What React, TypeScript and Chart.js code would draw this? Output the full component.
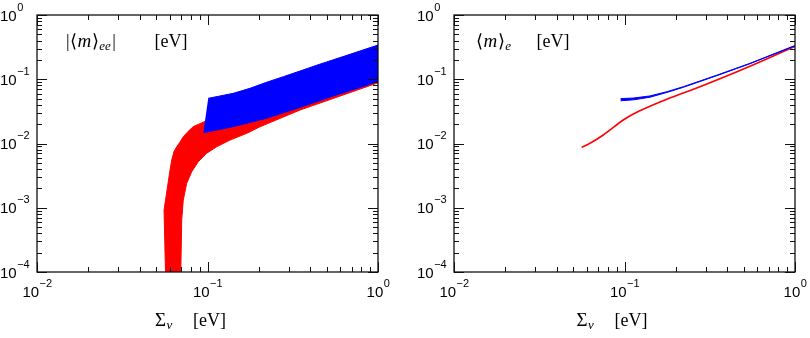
import React, { useEffect, useRef } from 'react';
import { Chart, registerables } from 'chart.js';

Chart.register(...registerables);

// ---------- axis ranges & ticks ----------
const X_MIN = 0.01;
const X_MAX = 1;
const Y_MIN = 1e-4;
const Y_MAX = 1;
const xMajorTicks = [0.01, 0.1, 1];
const xMajorExponents = ['\u22122', '\u22121', '0'];
const yMajorTicks = [1e-4, 1e-3, 1e-2, 1e-1, 1];
const yMajorExponents = ['\u22124', '\u22123', '\u22122', '\u22121', '0'];
const minorMultipliers = [2, 3, 4, 5, 6, 7, 8, 9];

// ---------- left panel: |<m>_ee| ----------
// normal hierarchy band (red): left/upper edge, from the bottom towards the right
const nhEeUpperX = [0.0567, 0.0556, 0.0603, 0.0617, 0.0636, 0.066, 0.069, 0.0721, 0.0769, 0.0825, 0.0945, 0.11, 0.2, 0.5, 1.0];
const nhEeUpperY = [1e-4, 9.2e-4, 0.00387, 0.00553, 0.0075, 0.0089, 0.01055, 0.01276, 0.01537, 0.0183, 0.0215, 0.026, 0.055, 0.15, 0.31];
// right/lower edge, from the bottom towards the right
const nhEeLowerX = [0.0697, 0.0706, 0.0721, 0.0755, 0.0808, 0.0883, 0.0989, 0.1132, 0.1355, 0.17, 0.203, 0.349, 1.0];
const nhEeLowerY = [1e-4, 6.45e-4, 0.00132, 0.0024, 0.00364, 0.00521, 0.00704, 0.0089, 0.0113, 0.0144, 0.0182, 0.0332, 0.088];
// inverted hierarchy band (blue)
const ihEeUpperX = [0.101, 0.1184, 0.1417, 0.1775, 0.222, 0.2783, 0.349, 0.436, 0.685, 1.0];
const ihEeUpperY = [0.0505, 0.0549, 0.0604, 0.0723, 0.0897, 0.1096, 0.1344, 0.1648, 0.2445, 0.341];
const ihEeLowerX = [0.0945, 0.1417, 0.222, 0.349, 0.5467, 1.0];
const ihEeLowerY = [0.0147, 0.0183, 0.0247, 0.0366, 0.0549, 0.0917];

// ---------- right panel: <m>_e ----------
const nhMeX = [0.0561, 0.0628, 0.0751, 0.0984, 0.1127, 0.177, 0.277, 0.435, 0.682, 1.0];
const nhMeY = [0.00873, 0.01007, 0.01355, 0.0232, 0.0288, 0.0488, 0.0766, 0.124, 0.2065, 0.325];
const ihMeX = [0.095, 0.1127, 0.141, 0.177, 0.221, 0.347, 0.545, 1.0];
const ihMeUpperY = [0.05, 0.051, 0.055, 0.064, 0.0765, 0.1155, 0.1772, 0.336];
const ihMeLowerY = [0.0462, 0.0478, 0.0525, 0.0622, 0.0748, 0.1133, 0.1745, 0.33];

const RED = '#ff0000';
const BLUE = '#0000ff';

type Pt = { x: number; y: number };
const zip = (xs: number[], ys: number[]): Pt[] => xs.map((x, i) => ({ x, y: ys[i] }));
const outline = (ux: number[], uy: number[], lx: number[], ly: number[]): Pt[] =>
  zip(ux, uy).concat(zip(lx, ly).reverse());

type Piece = { text: string; x?: number; gap?: number; italic?: boolean; sub?: boolean; size?: number };
type PanelCfg = {
  padding: { left: number; right: number; top: number; bottom: number };
  label: Piece[];
  labelBaseline: number;
  title: Piece[];
  titleBaseline: number;
};

const SERIF = '"Liberation Serif", "Times New Roman", serif';
const SANS = '"Liberation Sans", Arial, Helvetica, sans-serif';
const BASE_FONT = `15px ${SANS}`;
const EXP_FONT = `11px ${SANS}`;
const MAJOR_LEN = 10;
const MINOR_LEN = 5;

function drawPieces(ctx: CanvasRenderingContext2D, pieces: Piece[], baseline: number) {
  let cursor = 0;
  for (const p of pieces) {
    const size = p.size ?? (p.sub ? 13 : 18);
    ctx.font = `${p.italic ? 'italic ' : ''}${size}px ${SERIF}`;
    const x = p.x !== undefined ? p.x : cursor + (p.gap ?? 0);
    ctx.fillText(p.text, x, baseline + (p.sub ? 2.5 : 0));
    cursor = x + ctx.measureText(p.text).width;
  }
}

function drawPow(ctx: CanvasRenderingContext2D, exp: string, x: number, baseline: number, center: boolean) {
  ctx.font = BASE_FONT;
  const w1 = ctx.measureText('10').width;
  ctx.font = EXP_FONT;
  const w2 = ctx.measureText(exp).width;
  const start = center ? x - (w1 + w2) / 2 : x;
  ctx.font = BASE_FONT;
  ctx.fillText('10', start, baseline);
  ctx.font = EXP_FONT;
  ctx.fillText(exp, start + w1 + 0.5, baseline - 10);
}

function framePlugin(cfg: PanelCfg) {
  return {
    id: 'logFrame',
    afterDraw(chart: any) {
      const { ctx, chartArea: a, scales } = chart;
      const xs = scales.x;
      const ys = scales.y;
      ctx.save();
      ctx.strokeStyle = '#111';
      ctx.fillStyle = '#000';
      ctx.lineWidth = 1;
      const line = (x1: number, y1: number, x2: number, y2: number) => {
        ctx.beginPath();
        ctx.moveTo(x1, y1);
        ctx.lineTo(x2, y2);
        ctx.stroke();
      };
      const xMinor = xMajorTicks.slice(0, -1).flatMap((b) => minorMultipliers.map((m) => b * m));
      const yMinor = yMajorTicks.slice(0, -1).flatMap((b) => minorMultipliers.map((m) => b * m));
      const xTick = (v: number, len: number) => {
        const px = Math.round(xs.getPixelForValue(v)) + 0.5;
        line(px, a.bottom, px, a.bottom - len);
        line(px, a.top, px, a.top + len);
      };
      const yTick = (v: number, len: number) => {
        const py = Math.round(ys.getPixelForValue(v)) + 0.5;
        line(a.left, py, a.left + len, py);
        line(a.right, py, a.right - len, py);
      };
      xMinor.forEach((v) => xTick(v, MINOR_LEN));
      yMinor.forEach((v) => yTick(v, MINOR_LEN));
      xMajorTicks.forEach((v) => xTick(v, MAJOR_LEN));
      yMajorTicks.forEach((v) => yTick(v, MAJOR_LEN));
      ctx.lineWidth = 1.3;
      ctx.strokeRect(a.left, a.top, a.right - a.left, a.bottom - a.top);

      ctx.textAlign = 'left';
      ctx.textBaseline = 'alphabetic';
      xMajorTicks.forEach((v, i) => {
        drawPow(ctx, xMajorExponents[i], xs.getPixelForValue(v), a.bottom + 25, true);
      });
      yMajorTicks.forEach((v, i) => {
        drawPow(ctx, yMajorExponents[i], a.left - 37, ys.getPixelForValue(v) + 5.5, false);
      });
      drawPieces(ctx, cfg.label, cfg.labelBaseline);
      drawPieces(ctx, cfg.title, cfg.titleBaseline);
      ctx.restore();
    },
  };
}

function makeConfig(datasets: any[], cfg: PanelCfg): any {
  return {
    type: 'scatter',
    data: { datasets },
    options: {
      animation: false,
      responsive: false,
      maintainAspectRatio: false,
      devicePixelRatio: 1,
      layout: { padding: cfg.padding },
      scales: {
        x: { type: 'logarithmic', min: X_MIN, max: X_MAX, display: false },
        y: { type: 'logarithmic', min: Y_MIN, max: Y_MAX, display: false },
      },
      elements: { point: { radius: 0, hoverRadius: 0 }, line: { tension: 0 } },
      plugins: {
        legend: { display: false },
        tooltip: { enabled: false },
        filler: { drawTime: 'beforeDatasetDraw', propagate: false },
      },
      events: [],
    },
    plugins: [framePlugin(cfg)],
  };
}

const band = (data: Pt[], color: string) => ({
  data,
  showLine: true,
  fill: 'shape',
  backgroundColor: color,
  borderColor: color,
  borderWidth: 1,
  pointRadius: 0,
  clip: 0,
});

const leftCfg: PanelCfg = {
  padding: { left: 37, right: 27, top: 15, bottom: 66 },
  label: [
    { text: '|', x: 66 },
    { text: '\u27E8', gap: 0.5 },
    { text: 'm', italic: true, gap: 0.5, size: 19 },
    { text: '\u27E9', gap: 0.5 },
    { text: 'ee', italic: true, sub: true, gap: 0.5 },
    { text: '|', gap: 1.5 },
    { text: '[eV]', x: 154.5 },
  ],
  labelBaseline: 47,
  title: [
    { text: '\u03A3', x: 155, size: 19 },
    { text: '\u03BD', italic: true, sub: true, gap: 0.5 },
    { text: '[eV]', x: 193 },
  ],
  titleBaseline: 326,
};

const rightCfg: PanelCfg = {
  padding: { left: 49, right: 15, top: 15, bottom: 66 },
  label: [
    { text: '\u27E8', x: 71 },
    { text: 'm', italic: true, gap: 0.5, size: 19 },
    { text: '\u27E9', gap: 0.5 },
    { text: 'e', italic: true, sub: true, gap: 0.5 },
    { text: '[eV]', x: 131.5 },
  ],
  labelBaseline: 47,
  title: [
    { text: '\u03A3', x: 171.5, size: 19 },
    { text: '\u03BD', italic: true, sub: true, gap: 0.5 },
    { text: '[eV]', x: 209.5 },
  ],
  titleBaseline: 326,
};

export default function App() {
  const leftRef = useRef<HTMLCanvasElement>(null);
  const rightRef = useRef<HTMLCanvasElement>(null);

  useEffect(() => {
    const left = new Chart(
      leftRef.current as HTMLCanvasElement,
      makeConfig(
        [
          band(outline(ihEeUpperX, ihEeUpperY, ihEeLowerX, ihEeLowerY), BLUE),
          band(outline(nhEeUpperX, nhEeUpperY, nhEeLowerX, nhEeLowerY), RED),
        ],
        leftCfg
      )
    );
    const right = new Chart(
      rightRef.current as HTMLCanvasElement,
      makeConfig(
        [
          band(outline(ihMeX, ihMeUpperY, ihMeX, ihMeLowerY), BLUE),
          {
            data: zip(nhMeX, nhMeY),
            showLine: true,
            fill: false,
            borderColor: RED,
            backgroundColor: RED,
            borderWidth: 1.6,
            pointRadius: 0,
            cubicInterpolationMode: 'monotone',
            clip: 0,
          },
        ],
        rightCfg
      )
    );
    return () => {
      left.destroy();
      right.destroy();
    };
  }, []);

  return (
    <div style={{ position: 'absolute', left: 0, top: 0, width: 810, height: 338, background: '#fff' }}>
      <canvas
        ref={leftRef}
        width={405}
        height={338}
        style={{ position: 'absolute', left: 0, top: 0, width: 405, height: 338 }}
      />
      <canvas
        ref={rightRef}
        width={405}
        height={338}
        style={{ position: 'absolute', left: 405, top: 0, width: 405, height: 338 }}
      />
    </div>
  );
}
